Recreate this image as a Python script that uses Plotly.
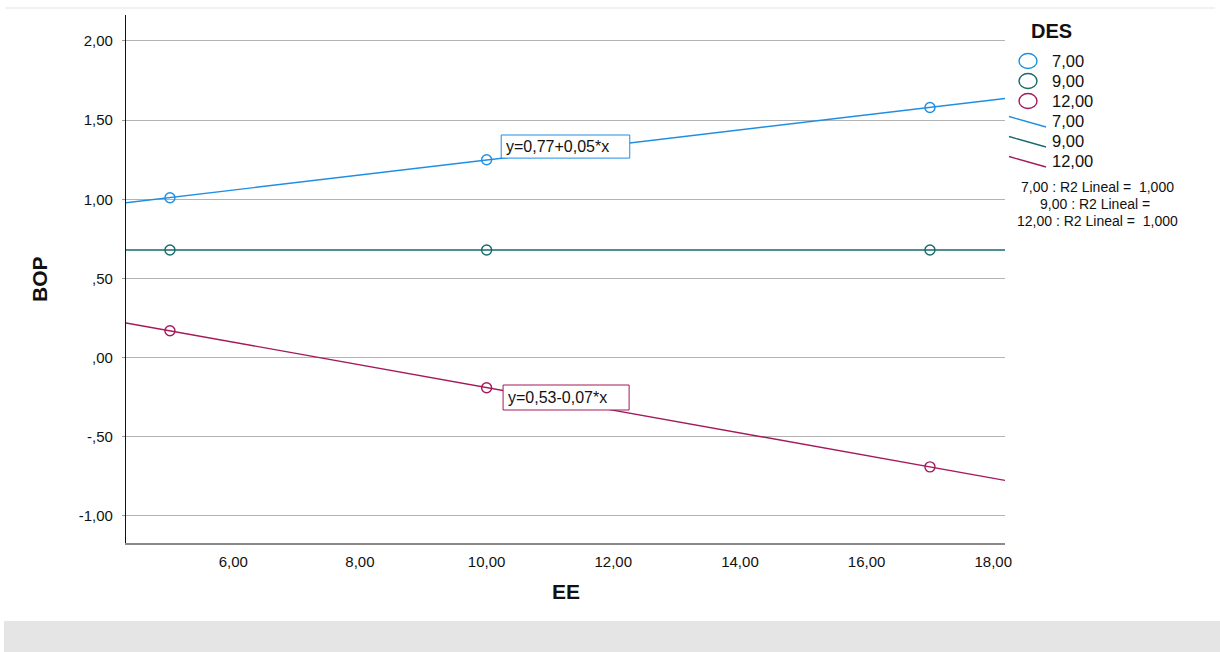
import numpy as np
import plotly.graph_objects as go

# EE values at which BOP was observed
ee = [5, 10, 17]

# BOP by DES group
des_labels = ["7,00", "9,00", "12,00"]
bop_des7 = [1.01, 1.25, 1.58]
bop_des9 = [0.68, 0.68, 0.68]
bop_des12 = [0.17, -0.19, -0.69]

# Axis ticks
x_ticks = [6, 8, 10, 12, 14, 16, 18]
y_ticks = [-1.0, -0.5, 0.0, 0.5, 1.0, 1.5, 2.0]

colors = ["#1e8fe3", "#17696a", "#a3195b"]
series = [bop_des7, bop_des9, bop_des12]

FONT = "Liberation Sans, Arial, sans-serif"
X_RANGE = [4.306, 18.185]
Y_RANGE = [-1.171, 2.164]

# plot area in pixels
L, R, T, B = 126, 1005, 15, 543
W, H = 1220, 652


def px(x):
    return (x - L) / (R - L)


def py(y):
    return (B - y) / (B - T)


def fmt(v, digits=2):
    s = f"{v:.{digits}f}".replace(".", ",")
    if s.startswith("0,"):
        s = s[1:]
    elif s.startswith("-0,"):
        s = "-" + s[2:]
    return s


def fmt_full(v, digits=2):
    return f"{v:.{digits}f}".replace(".", ",")


fig = go.Figure()
fits = []
xs = np.array(X_RANGE)
for vals, col in zip(series, colors):
    x = np.array(ee, dtype=float)
    y = np.array(vals, dtype=float)
    slope, icpt = np.polyfit(x, y, 1)
    pred = icpt + slope * x
    sst = float(np.sum((y - y.mean()) ** 2))
    r2 = None if sst < 1e-12 else 1 - float(np.sum((y - pred) ** 2)) / sst
    fits.append((slope, icpt, r2))
    fig.add_trace(go.Scatter(x=xs, y=icpt + slope * xs, mode="lines",
                             line=dict(color=col, width=1.4), hoverinfo="skip"))
    fig.add_trace(go.Scatter(x=ee, y=vals, mode="markers",
                             marker=dict(symbol="circle-open", size=10, color=col,
                                         line=dict(width=1.4, color=col))))

shapes = []
annotations = []

# fit equation labels
label_boxes = [(0, 10.23, 12.26, 1.26, 1.406), (2, 10.26, 12.25, -0.331, -0.173)]
for idx, x0, x1, y0, y1 in label_boxes:
    slope, icpt, _ = fits[idx]
    sign = "+" if slope >= 0 else "-"
    txt = f"y={fmt_full(icpt)}{sign}{fmt_full(abs(slope))}*x"
    shapes.append(dict(type="rect", xref="x", yref="y", x0=x0, x1=x1, y0=y0, y1=y1,
                       line=dict(color=colors[idx], width=1), fillcolor="white", layer="above"))
    annotations.append(dict(x=x0 + 0.04, y=(y0 + y1) / 2, xref="x", yref="y", text=txt,
                            showarrow=False, xanchor="left", yanchor="middle",
                            font=dict(family=FONT, size=16, color="#111")))

# legend title
annotations.append(dict(x=px(1029), y=py(31), xref="paper", yref="paper", text="<b>DES</b>",
                        showarrow=False, xanchor="left", yanchor="middle",
                        font=dict(family=FONT, size=20, color="#111")))
# marker entries
for i, (lab, col) in enumerate(zip(des_labels, colors)):
    yy = 61 + 20 * i
    shapes.append(dict(type="circle", xref="paper", yref="paper", xsizemode="pixel",
                       ysizemode="pixel", xanchor=px(1028), yanchor=py(yy),
                       x0=-9, x1=9, y0=-7.5, y1=7.5, line=dict(color=col, width=1.4)))
    annotations.append(dict(x=px(1050), y=py(yy), xref="paper", yref="paper", text=lab,
                            showarrow=False, xanchor="left", yanchor="middle",
                            font=dict(family=FONT, size=16.5, color="#111")))
# line entries
for i, (lab, col) in enumerate(zip(des_labels, colors)):
    yy = 121 + 20 * i
    shapes.append(dict(type="line", xref="paper", yref="paper", x0=px(1009), x1=px(1046),
                       y0=py(yy - 4.5), y1=py(yy + 6), line=dict(color=col, width=1.3)))
    annotations.append(dict(x=px(1050), y=py(yy), xref="paper", yref="paper", text=lab,
                            showarrow=False, xanchor="left", yanchor="middle",
                            font=dict(family=FONT, size=16.5, color="#111")))
# R2 notes
for i, (lab, fit) in enumerate(zip(des_labels, fits)):
    r2 = fit[2]
    txt = f"{lab} : R2 Lineal = " + ("" if r2 is None else f"\u00a0{r2:.3f}".replace(".", ","))
    annotations.append(dict(x=px(1097), y=py(187 + 17 * i), xref="paper", yref="paper",
                            text=txt, showarrow=False, xanchor="center", yanchor="middle",
                            font=dict(family=FONT, size=14, color="#111")))

# axis titles
annotations.append(dict(x=px(565.5), y=py(591), xref="paper", yref="paper", text="<b>EE</b>",
                        showarrow=False, xanchor="center", yanchor="middle",
                        font=dict(family=FONT, size=21, color="#111")))
annotations.append(dict(x=px(39), y=py(279), xref="paper", yref="paper", text="<b>BOP</b>",
                        showarrow=False, xanchor="center", yanchor="middle", textangle=-90,
                        font=dict(family=FONT, size=21, color="#111")))

# page decorations: thin rule on top and grey footer band
shapes.append(dict(type="line", xref="paper", yref="paper", x0=px(5), x1=px(1215),
                   y0=py(8), y1=py(8), line=dict(color="#e3e3e3", width=1), layer="below"))
shapes.append(dict(type="rect", xref="paper", yref="paper", x0=px(4), x1=px(1220),
                   y0=py(652), y1=py(621), line=dict(width=0), fillcolor="#e5e5e5",
                   layer="below"))

fig.update_layout(
    width=W, height=H,
    margin=dict(l=L, r=W - R, t=T, b=H - B),
    plot_bgcolor="white", paper_bgcolor="white",
    showlegend=False,
    shapes=shapes, annotations=annotations,
    xaxis=dict(range=X_RANGE, tickvals=x_ticks, ticktext=[fmt_full(v) for v in x_ticks],
               showgrid=False, zeroline=False, showline=True, linecolor="#8a8a8a",
               linewidth=2, ticks="", ticklabelstandoff=4,
               tickfont=dict(family=FONT, size=15, color="#111")),
    yaxis=dict(range=Y_RANGE, tickvals=y_ticks, ticktext=[fmt(v) for v in y_ticks],
               showgrid=True, gridcolor="#b3b3b3", gridwidth=1.2, zeroline=False,
               showline=True, linecolor="#111", linewidth=1.2, ticks="outside",
               ticklen=3, tickcolor="#999", ticklabelstandoff=6,
               tickfont=dict(family=FONT, size=15, color="#111")),
)

fig.write_html("out.html")
